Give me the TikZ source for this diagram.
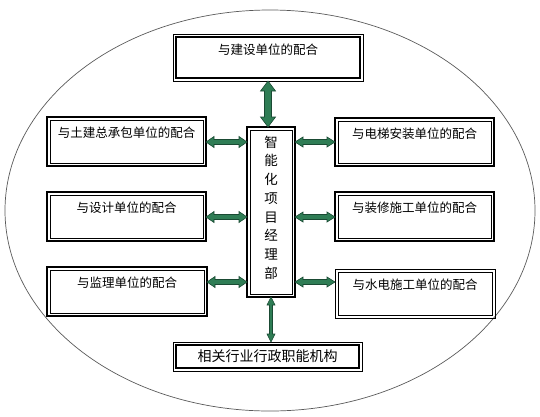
\documentclass[tikz,border=0pt]{standalone}
\usepackage{fontspec}
\setmainfont{Noto Sans CJK SC}
\usetikzlibrary{calc}
\definecolor{arrfill}{RGB}{47,125,85}
\definecolor{arrline}{RGB}{26,74,51}
\definecolor{ellline}{RGB}{90,90,90}
\newcommand\blockarrow[5]{%
  \filldraw[barrow] (#1) -- ($(#1)!#3!(#2)!#4!90:(#2)$) -- ($(#1)!#3!(#2)!#5!90:(#2)$)
   -- ($(#2)!#3!(#1)!#5!-90:(#1)$) -- ($(#2)!#3!(#1)!#4!-90:(#1)$) -- (#2)
   -- ($(#2)!#3!(#1)!#4!90:(#1)$) -- ($(#2)!#3!(#1)!#5!90:(#1)$)
   -- ($(#1)!#3!(#2)!#5!-90:(#2)$) -- ($(#1)!#3!(#2)!#4!-90:(#2)$) -- cycle;}
\newcommand\innerrect[2]{%
  \draw[line width=#2] ([shift={(3pt,-3pt)}]#1.north west) rectangle ([shift={(-3pt,3pt)}]#1.south east);}
\begin{document}
\begin{tikzpicture}[x=1pt,y=-1pt,
  barrow/.style={fill=arrfill,draw=arrline,line width=0.6pt,line join=miter},
  boxbase/.style={draw,inner sep=0pt,outer sep=0pt},
  boxthick/.style={boxbase,line width=1.6pt},
  boxthin/.style={boxbase,line width=0.7pt},
  toptext/.style={label={[anchor=center,yshift=-16pt,font=\fontsize{12.5}{14}\selectfont]north:{#1}}}
]
\useasboundingbox (0,0) rectangle (540,416);
\draw[ellline,line width=0.7pt] (270,210.5) ellipse [x radius=265, y radius=200.5];

\node[boxthin,minimum width=190pt,minimum height=47pt,toptext={与建设单位的配合}] (T) at (268,57.5) {};
\node[boxthick,minimum width=159pt,minimum height=49pt,toptext={与土建总承包单位的配合}] (L1) at (126.5,141.5) {};
\node[boxthick,minimum width=159pt,minimum height=49pt,toptext={与设计单位的配合}] (L2) at (126.5,216.5) {};
\node[boxthick,minimum width=160pt,minimum height=49pt,toptext={与监理单位的配合}] (L3) at (127,291.5) {};
\node[boxthick,minimum width=159pt,minimum height=48pt,toptext={与电梯安装单位的配合}] (R1) at (414.5,142) {};
\node[boxthick,minimum width=159pt,minimum height=49pt,toptext={与装修施工单位的配合}] (R2) at (414.5,216.5) {};
\node[boxthin,minimum width=160pt,minimum height=49pt,toptext={与水电施工单位的配合}] (R3) at (415,293.5) {};
\node[boxthick,minimum width=48pt,minimum height=170pt,
  label={[anchor=center,yshift=4.5pt,align=center,font=\fontsize{13.5}{18.7}\selectfont]center:{智\\能\\化\\项\\目\\经\\理\\部}}] (C) at (271,212) {};
\node[boxthin,minimum width=189pt,minimum height=29pt,font=\fontsize{14}{16}\selectfont] (B) at (267.5,356.5) {相关行业行政职能机构};

\innerrect{T}{1.3pt}
\innerrect{L1}{0.6pt}
\innerrect{L2}{0.6pt}
\innerrect{L3}{0.6pt}
\innerrect{R1}{0.6pt}
\innerrect{R2}{0.6pt}
\innerrect{R3}{0.9pt}
\innerrect{C}{0.6pt}
\innerrect{B}{1.3pt}

\coordinate (y1) at (0,142);
\coordinate (y2) at (0,217);
\coordinate (y3) at (0,282);
\coordinate (la1) at (L1.east |- y1); \coordinate (lb1) at (C.west |- y1);
\coordinate (la2) at (L2.east |- y2); \coordinate (lb2) at (C.west |- y2);
\coordinate (la3) at (L3.east |- y3); \coordinate (lb3) at (C.west |- y3);
\coordinate (ra1) at (C.east |- y1); \coordinate (rb1) at (R1.west |- y1);
\coordinate (ra2) at (C.east |- y2); \coordinate (rb2) at (R2.west |- y2);
\coordinate (ra3) at (C.east |- y3); \coordinate (rb3) at (R3.west |- y3);
\coordinate (ta) at (T.south); \coordinate (tb) at (T.south |- C.north);
\coordinate (ba) at (C.south); \coordinate (bb) at (C.south |- B.north);

\blockarrow{la1}{lb1}{8pt}{5.5pt}{2.5pt}
\blockarrow{la2}{lb2}{8pt}{5.5pt}{2.5pt}
\blockarrow{la3}{lb3}{8pt}{5.5pt}{2.5pt}
\blockarrow{ra1}{rb1}{8pt}{5pt}{2.5pt}
\blockarrow{ra2}{rb2}{8pt}{5pt}{2.5pt}
\blockarrow{ra3}{rb3}{8pt}{5pt}{2.5pt}
\blockarrow{ta}{tb}{10pt}{7.5pt}{3.5pt}
\blockarrow{ba}{bb}{8pt}{4pt}{1.5pt}
\end{tikzpicture}
\end{document}
